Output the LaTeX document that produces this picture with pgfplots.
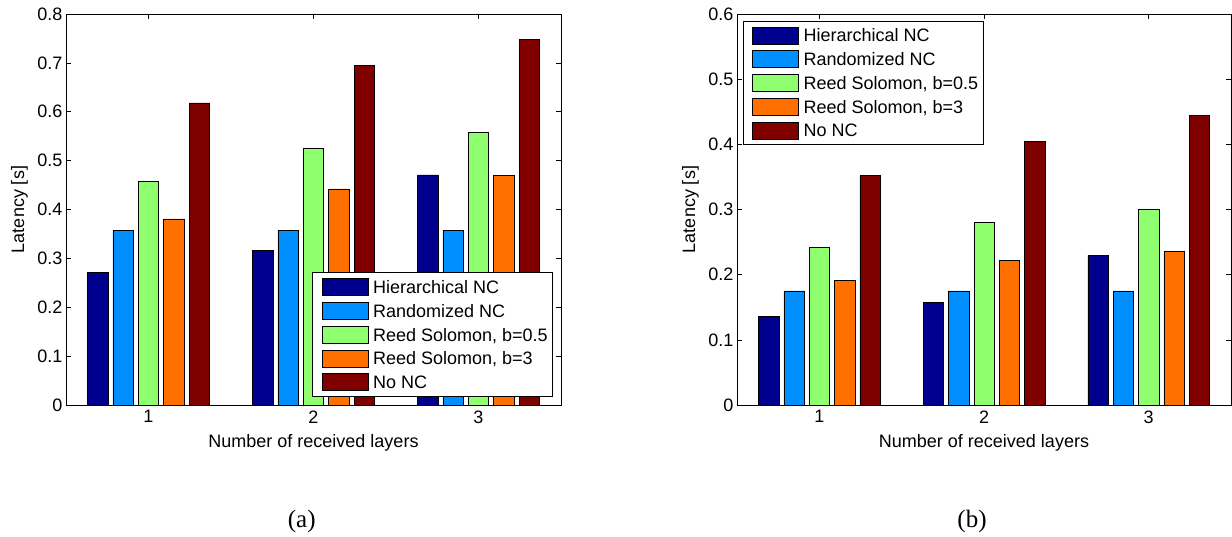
\documentclass[border=0pt]{standalone}
\usepackage{fontspec}
\setmainfont{Liberation Sans}
\newfontfamily\capfont{Liberation Serif}
\usepackage{pgfplots}
\pgfplotsset{compat=1.18}

% matlab jet colours for five series
\definecolor{c1}{rgb}{0,0,0.5625}
\definecolor{c2}{rgb}{0,0.5625,1}
\definecolor{c3}{rgb}{0.5625,1,0.4375}
\definecolor{c4}{rgb}{1,0.4375,0}
\definecolor{c5}{rgb}{0.5,0,0}

\pgfplotsset{
  latbars/.style={
    scale only axis, width=495pt, height=391pt,
    ybar, bar width=0.123,
    xmin=0.5, xmax=3.5, xtick={1,2,3}, ymin=0, ytick distance=0.1,
    tick pos=both, tick align=inside, major tick length=5pt,
    axis line style={line width=0.8pt},
    every tick/.style={black, line width=0.6pt},
    tick label style={font=\fontsize{18}{21}\selectfont},
    /pgf/number format/assume math mode=true,
    yticklabel style={/pgf/number format/fixed, /pgf/number format/precision=1},
    xticklabel style={yshift=-2pt},
    xlabel={Number of received layers},
    ylabel={Latency [s]},
    every axis x label/.style={at={(rel axis cs:0.5,0)}, anchor=base, yshift=-42pt,
      font=\fontsize{18}{21}\selectfont},
    every axis y label/.style={at={(rel axis cs:0,0.5)}, anchor=base, xshift=-42pt, rotate=90,
      font=\fontsize{18}{21}\selectfont},
    legend image code/.code={\path (0pt,0pt); \draw[#1] (4pt,-8.5pt) rectangle (50pt,8.5pt);},
    legend style={font=\fontsize{18}{20}\selectfont, draw=black, line width=0.8pt,
      inner xsep=5pt, inner ysep=5.5pt, row sep=6.3pt, column sep=5pt,
      nodes={inner sep=0pt, text height=13pt, text depth=0pt}},
    legend cell align=left,
    every axis plot/.append style={draw=black, line width=0.5pt},
  },
}

\begin{document}
\begin{tikzpicture}
\useasboundingbox (0,0) rectangle (1232pt,536pt);

% (a)
\begin{axis}[latbars, at={(66pt,131pt)}, anchor=south west, ymax=0.8,
    legend style={at={(0.984,0.021)}, anchor=south east}]
\addplot[fill=c1, bar shift=-0.3077] coordinates {(1,0.271) (2,0.317) (3,0.471)};
\addplot[fill=c2, bar shift=-0.1538] coordinates {(1,0.358) (2,0.358) (3,0.358)};
\addplot[fill=c3, bar shift=0] coordinates {(1,0.457) (2,0.525) (3,0.558)};
\addplot[fill=c4, bar shift=0.1538] coordinates {(1,0.381) (2,0.442) (3,0.470)};
\addplot[fill=c5, bar shift=0.3077] coordinates {(1,0.618) (2,0.695) (3,0.748)};
\legend{Hierarchical NC, Randomized NC, {Reed Solomon, b=0.5}, {Reed Solomon, b=3}, No NC}
\end{axis}

% (b)
\begin{axis}[latbars, at={(737pt,131pt)}, anchor=south west, width=494pt, ymax=0.6,
    legend style={at={(0.0115,0.983)}, anchor=north west}]
\addplot[fill=c1, bar shift=-0.3077] coordinates {(1,0.1355) (2,0.1575) (3,0.2297)};
\addplot[fill=c2, bar shift=-0.1538] coordinates {(1,0.175) (2,0.175) (3,0.175)};
\addplot[fill=c3, bar shift=0] coordinates {(1,0.2424) (2,0.280) (3,0.2997)};
\addplot[fill=c4, bar shift=0.1538] coordinates {(1,0.191) (2,0.2215) (3,0.2358)};
\addplot[fill=c5, bar shift=0.3077] coordinates {(1,0.352) (2,0.405) (3,0.444)};
\legend{Hierarchical NC, Randomized NC, {Reed Solomon, b=0.5}, {Reed Solomon, b=3}, No NC}
\end{axis}

\node[font=\capfont\fontsize{25}{29}\selectfont, anchor=base] at (301.7pt,9pt) {(a)};
\node[font=\capfont\fontsize{25}{29}\selectfont, anchor=base] at (972pt,9pt) {(b)};
\end{tikzpicture}
\end{document}
